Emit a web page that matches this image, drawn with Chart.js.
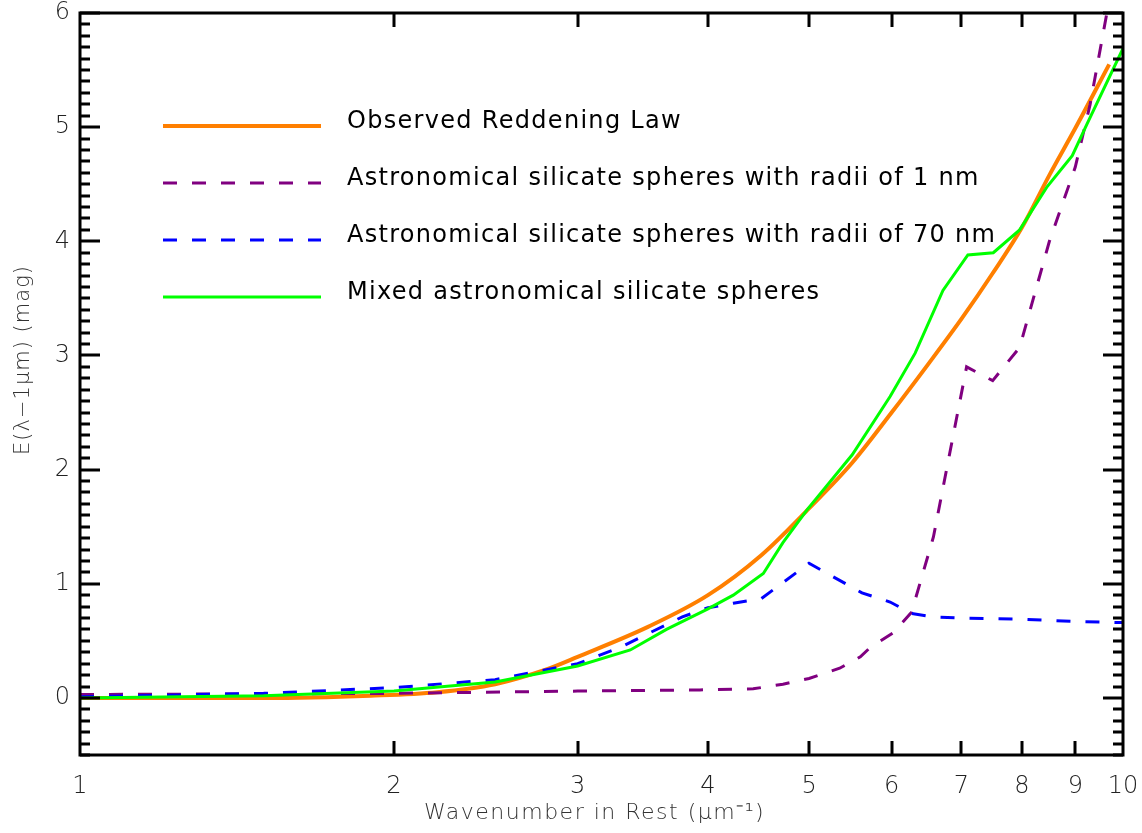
<!DOCTYPE html>
<html>
<head>
<meta charset="utf-8">
<script src="https://cdn.jsdelivr.net/npm/chart.js@4.4.1/dist/chart.umd.min.js"></script>
<style>
    html, body { margin: 0; padding: 0; background: #fff; }
</style>
</head>
<body>
<canvas id="myChart" width="1142" height="833"></canvas>
<script>
// Valeurs
const xTicks = [1, 2, 3, 4, 5, 6, 7, 8, 9, 10];
const yTicks = [0, 1, 2, 3, 4, 5, 6];

const observedX = [1, 1.5, 1.9, 2.2, 2.5, 2.8, 3.0, 3.5, 4.0, 4.5, 5.0, 5.5, 6.0, 6.5, 7.0, 7.5, 8.0, 8.5, 9.0, 9.7];
const observedY = [0.0, 0.0, 0.02, 0.05, 0.12, 0.25, 0.36, 0.62, 0.9, 1.25, 1.66, 2.06, 2.5, 2.92, 3.32, 3.72, 4.12, 4.58, 4.99, 5.55];

const smallX = [1, 2, 3, 3.93, 4.42, 4.72, 5.0, 5.35, 5.6, 5.72, 6.02, 6.27, 6.58, 7.08, 7.5, 7.96, 8.5, 9.0, 9.3, 9.65, 10];
const smallY = [0.03, 0.04, 0.06, 0.07, 0.08, 0.12, 0.17, 0.26, 0.36, 0.44, 0.57, 0.75, 1.41, 2.9, 2.78, 3.07, 4.0, 4.65, 5.2, 6.0, 6.6];

const bigX = [1, 1.5, 2.0, 2.5, 3.0, 3.29, 3.78, 4.0, 4.23, 4.5, 5.0, 5.62, 5.98, 6.27, 6.58, 7.0, 8.0, 9.0, 10];
const bigY = [0.01, 0.04, 0.09, 0.16, 0.3, 0.44, 0.71, 0.79, 0.83, 0.87, 1.18, 0.92, 0.84, 0.74, 0.71, 0.70, 0.69, 0.67, 0.66];

const mixedX = [1, 1.5, 2.0, 2.5, 3.0, 3.37, 3.65, 4.0, 4.23, 4.52, 4.72, 4.98, 5.5, 5.98, 6.32, 6.72, 7.1, 7.51, 7.96, 8.46, 8.94, 9.24, 10];
const mixedY = [0.0, 0.02, 0.06, 0.14, 0.28, 0.42, 0.6, 0.78, 0.9, 1.09, 1.36, 1.65, 2.13, 2.64, 3.02, 3.57, 3.88, 3.9, 4.1, 4.48, 4.75, 5.03, 5.69];

const toPoints = (xs, ys) => xs.map((x, i) => ({ x: x, y: ys[i] }));

// Cadre et graduations vers l'intérieur (style IDL)
const frameTicks = {
    id: 'frameTicks',
    afterDatasetsDraw(chart) {
        const { ctx, chartArea: a, scales: { x, y } } = chart;
        ctx.save();
        ctx.strokeStyle = '#000';
        ctx.lineWidth = 3;
        ctx.beginPath();
        for (let i = -5; i <= 60; i++) {
            const py = Math.round(y.getPixelForValue(i / 10));
            const len = i % 10 === 0 ? 20 : 10;
            ctx.moveTo(a.left, py);
            ctx.lineTo(a.left + len, py);
            ctx.moveTo(a.right, py);
            ctx.lineTo(a.right - len, py);
        }
        xTicks.forEach(v => {
            if (v === 1 || v === 10) return;
            const px = Math.round(x.getPixelForValue(v));
            ctx.moveTo(px, a.bottom);
            ctx.lineTo(px, a.bottom - 14);
            ctx.moveTo(px, a.top);
            ctx.lineTo(px, a.top + 14);
        });
        ctx.stroke();
        ctx.strokeRect(a.left, a.top, a.right - a.left, a.bottom - a.top);
        ctx.restore();
    }
};

// Légende dans la zone du graphique
const insideLegend = {
    id: 'insideLegend',
    afterDatasetsDraw(chart) {
        const { ctx, chartArea: a } = chart;
        ctx.save();
        chart.data.datasets.forEach((ds, i) => {
            const yy = a.top + 113 + i * 57;
            ctx.strokeStyle = ds.borderColor;
            ctx.lineWidth = ds.borderWidth;
            ctx.setLineDash(ds.borderDash || []);
            ctx.beginPath();
            ctx.moveTo(a.left + 83, yy);
            ctx.lineTo(a.left + 241, yy);
            ctx.stroke();
            ctx.setLineDash([]);
            ctx.fillStyle = '#000';
            ctx.font = '24px "DejaVu Sans"';
            ctx.letterSpacing = '1.3px';
            ctx.textBaseline = 'alphabetic';
            ctx.fillText(ds.label, a.left + 267, yy + 2);
        });
        ctx.restore();
    }
};

// Titres des axes
const axisTitles = {
    id: 'axisTitles',
    afterDraw(chart) {
        const { ctx, chartArea: a } = chart;
        ctx.save();
        ctx.fillStyle = '#333';
        ctx.font = '300 22px "DejaVu Sans"';
        ctx.letterSpacing = '1.5px';
        ctx.textAlign = 'center';
        ctx.textBaseline = 'middle';
        ctx.fillText('Wavenumber in Rest (μm⁻¹)', (a.left + a.right) / 2 - 7, 813);
        ctx.font = '300 21px "DejaVu Sans"';
        ctx.letterSpacing = '1px';
        ctx.translate(24, 360);
        ctx.rotate(-Math.PI / 2);
        ctx.fillText('E(λ−1μm) (mag)', 0, 0);
        ctx.restore();
    }
};

const ctx = document.getElementById('myChart');

const myChart = new Chart(ctx, {
    type: 'line',
    data: {
        datasets: [{
            label: 'Observed Reddening Law',
            data: toPoints(observedX, observedY),
            borderColor: '#ff7f00',
            borderWidth: 4,
            cubicInterpolationMode: 'monotone',
            order: 4
        }, {
            label: 'Astronomical silicate spheres with radii of 1 nm',
            data: toPoints(smallX, smallY),
            borderColor: '#800080',
            borderWidth: 3,
            borderDash: [14, 15],
            order: 3
        }, {
            label: 'Astronomical silicate spheres with radii of 70 nm',
            data: toPoints(bigX, bigY),
            borderColor: '#0000ff',
            borderWidth: 3,
            borderDash: [14, 15],
            order: 2
        }, {
            label: 'Mixed astronomical silicate spheres',
            data: toPoints(mixedX, mixedY),
            borderColor: '#00ff00',
            borderWidth: 3,
            order: 1
        }]
    },
    options: {
        responsive: false,
        animation: false,
        devicePixelRatio: 1,
        layout: {
            padding: { top: 13, right: 19, left: 0, bottom: 0 }
        },
        elements: {
            point: { radius: 0 },
            line: { tension: 0, fill: false }
        },
        plugins: {
            legend: { display: false },
            tooltip: { enabled: false }
        },
        scales: {
            x: {
                type: 'logarithmic',
                min: 1,
                max: 10,
                afterBuildTicks: scale => { scale.ticks = xTicks.map(v => ({ value: v })); },
                afterFit: scale => {
                    scale.height = 78;
                    scale.paddingLeft = 0;
                    scale.paddingRight = 0;
                },
                grid: { display: false, drawTicks: false },
                border: { display: false },
                ticks: {
                    autoSkip: false,
                    maxRotation: 0,
                    padding: 17,
                    color: '#222',
                    font: { family: 'DejaVu Sans', size: 24, weight: '300' },
                    callback: value => String(value)
                }
            },
            y: {
                type: 'linear',
                min: -0.5,
                max: 6,
                afterBuildTicks: scale => { scale.ticks = yTicks.map(v => ({ value: v })); },
                afterFit: scale => {
                    scale.width = 80;
                    scale.paddingTop = 0;
                    scale.paddingBottom = 0;
                },
                grid: { display: false, drawTicks: false },
                border: { display: false },
                ticks: {
                    padding: 10,
                    color: '#222',
                    font: { family: 'DejaVu Sans', size: 24, weight: '300' },
                    callback: value => String(value)
                }
            }
        }
    },
    plugins: [frameTicks, insideLegend, axisTitles]
});
</script>
</body>
</html>
